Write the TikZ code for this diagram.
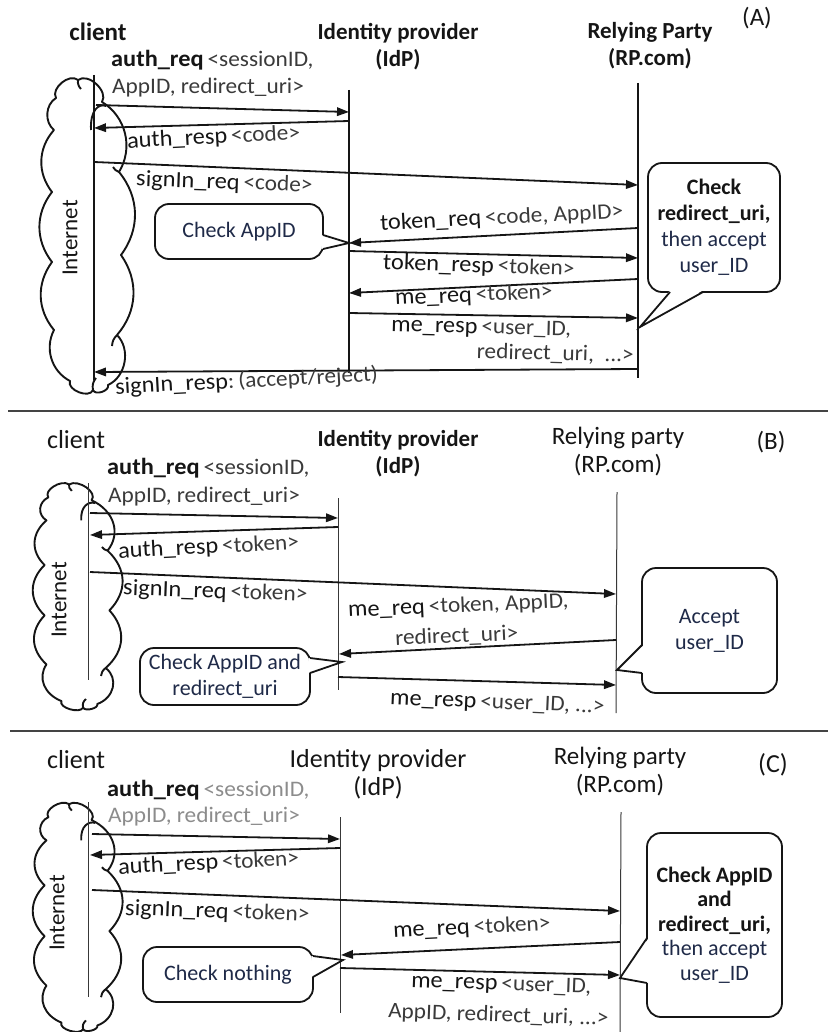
\documentclass[tikz,border=0pt]{standalone}
\usepackage{fontspec}
\setmainfont{Carlito}
\usetikzlibrary{arrows.meta,calc}
\definecolor{ink}{HTML}{151515}
\definecolor{par}{HTML}{3A3A3A}
\definecolor{faint}{HTML}{8C8C8C}
\definecolor{note}{HTML}{1F2A48}
% message names are a touch larger and darker than their parameters
\newcommand\nm[1]{{\fontsize{23.2}{26}\selectfont\color{ink}#1}}
\newcommand\nmb[1]{{\fontsize{23.2}{26}\selectfont\bfseries\color{ink}#1}}
\tikzset{
  lifeline/.style={line width=1.4pt, draw=ink},
  thinlife/.style={line width=1pt, draw=ink!85},
  msg/.style={line width=1.8pt, draw=ink, -{Triangle[length=12pt,width=8.5pt]}},
  lbl/.style={font=\fontsize{22.2}{26}\selectfont, text=par, inner sep=0pt, anchor=west, xscale=1.05},
  hdr/.style={font=\fontsize{25}{28}\selectfont, text=ink, inner sep=0pt, align=center},
  hdrb/.style={font=\fontsize{23}{27}\selectfont\bfseries, text=ink, inner sep=0pt, align=center},
  notebox/.style={draw=ink, line width=1.8pt, rounded corners=14pt, fill=white, text=note,
    font=\fontsize{22}{26}\selectfont, align=center, inner sep=0pt},
  cloudline/.style={line width=1.9pt, draw=ink, line join=round},
  sep/.style={line width=1.3pt, draw=ink!80},
  net/.style={font=\fontsize{23}{26}\selectfont, text=ink, rotate=90, inner sep=0pt},
}
% pointer of a speech box: base point, tip, base point, inward shift
\newcommand\notetail[4]{%
  \fill[white] ($(#1)+#4$) -- (#2) -- ($(#3)+#4$) -- cycle;
  \draw[line width=1.8pt, draw=ink, line join=miter] (#1) -- (#2) -- (#3);}
% the Internet cloud, drawn in the frame of the top panel
\newcommand\netcloud{%
  \draw[cloudline] (56,98) to[bend left=80] (78,80) to[bend left=80] (102,102)
    to[bend left=45] (119,172) to[bend left=38] (121,255) to[bend left=38] (117,335)
    to[bend left=55] (108,385) to[bend left=90] (93,390) to[bend left=90] (70,381)
    to[bend left=45] (54,330) to[bend left=38] (52,262) to[bend left=38] (52,192)
    to[bend left=40] (54,130) to[bend left=55] cycle;
  \draw[cloudline] (91,130) .. controls (90,110) and (99,103) .. (106,106);
  \draw[cloudline] (78,80) to[bend right=25] (81,89);
  \draw[cloudline] (119,172) to[bend left=20] (113,167);
  \draw[cloudline] (117,335) to[bend right=20] (112,346);
  \draw[cloudline] (93,390) to[bend left=25] (96,378);}

\begin{document}
\begin{tikzpicture}[x=1pt,y=-1pt]
\useasboundingbox (0,0) rectangle (828,1032);

%% ---------------- panel (A) ----------------
\netcloud
\node[net] (netA) at (70,238) {Internet};
\node[hdrb, font=\fontsize{25}{28}\selectfont\bfseries] (cliA) at (98,32) {client};
\node[hdrb] (idpA) at (398,47) {Identity provider\\(IdP)};
\node[hdrb] (rpA) at (650,46) {Relying Party\\(RP.com)};
\node[hdr] (tagA) at (757,18) {(A)};

\coordinate (cAt) at (94,75);   \coordinate (cAb) at (94,380);
\coordinate (iAt) at (349,90);  \coordinate (iAb) at (349,373);
\coordinate (rAt) at (638,83);  \coordinate (rAb) at (638,378);
\draw[lifeline] (cAt) -- (cAb);
\draw[lifeline] (iAt) -- (iAb);
\draw[lifeline] (rAt) -- (rAb);

\coordinate (A1s) at (96,105);  \coordinate (A1e) at (349,112);
\coordinate (A2s) at (349,121); \coordinate (A2e) at (94,128);
\coordinate (A3s) at (94,162);  \coordinate (A3e) at (638,185);
\coordinate (A4s) at (638,228); \coordinate (A4e) at (349,243);
\coordinate (A5s) at (349,251); \coordinate (A5e) at (638,258);
\coordinate (A6s) at (638,279); \coordinate (A6e) at (349,293);
\coordinate (A7s) at (349,313); \coordinate (A7e) at (638,318);
\coordinate (A8s) at (638,369); \coordinate (A8e) at (94,372);
\foreach \m in {1,...,8} {\draw[msg] (A\m s) -- (A\m e);}

\node[lbl] (lA1) at (111,60) {\nmb{auth\_req}\,<sessionID,};
\node[lbl] (lA1b) at (112,88) {AppID, redirect\_uri>};
\node[lbl, rotate=3] (lA2) at (127,142) {\nm{auth\_resp}\,<code>};
\node[lbl, rotate=-2] (lA3) at (136,180) {\nm{signIn\_req}\,<code>};
\node[lbl, rotate=3] (lA4) at (380,224) {\nm{token\_req}\,<code, AppID>};
\node[lbl, rotate=-2] (lA5) at (383,263) {\nm{token\_resp}\,<token>};
\node[lbl, rotate=2.5] (lA6) at (395,299) {\nm{me\_req}\,<token>};
\node[lbl, rotate=-1.5] (lA7) at (391,326) {\nm{me\_resp}\,<user\_ID,};
\node[lbl, rotate=-1.5, anchor=east] (lA7b) at (634,356) {redirect\_uri,\ \ ...>};
\node[lbl, rotate=3] (lA8) at (115,388) {\nm{signIn\_resp}:\,(accept/reject)};

\node[notebox, minimum width=168pt, minimum height=55pt] (nA1) at (239,231.5) {Check AppID};
\coordinate (nA1p) at (323,235); \coordinate (nA1t) at (349,243); \coordinate (nA1q) at (323,249);
\notetail{nA1p}{nA1t}{nA1q}{(-1.6,0)}
\node[notebox, minimum width=132pt, minimum height=129pt] (nA2) at (714,227.5)
  {\textbf{\color{ink}Check}\\\textbf{\color{ink}redirect\_uri,}\\then accept\\user\_ID};
\coordinate (nA2p) at (670,292); \coordinate (nA2t) at (640,327); \coordinate (nA2q) at (703,292);
\notetail{nA2p}{nA2t}{nA2q}{(0,-1.6)}

\coordinate (s1l) at (8,411); \coordinate (s1r) at (828,411);
\draw[sep] (s1l) -- (s1r);

%% ---------------- panel (B) ----------------
\begin{scope}[shift={(-4.3,426.8)}, xscale=0.94, yscale=0.72]
\netcloud
\end{scope}
\node[net] (netB) at (59,600) {Internet};
\node[hdr, font=\fontsize{26}{28}\selectfont] (cliB) at (76,440) {client};
\node[hdrb] (idpB) at (398,454) {Identity provider\\(IdP)};
\node[hdr] (rpB) at (618,452) {Relying party\\(RP.com)};
\node[hdr] (tagB) at (771,442) {(B)};

\coordinate (cBt) at (88,483);  \coordinate (cBb) at (88,680);
\coordinate (iBt) at (338,498); \coordinate (iBb) at (338,690);
\coordinate (rBt) at (617,492); \coordinate (rBb) at (616,713);
\draw[thinlife] (cBt) -- (cBb);
\draw[thinlife] (iBt) -- (iBb);
\draw[thinlife] (rBt) -- (rBb);

\coordinate (B1s) at (90,513);  \coordinate (B1e) at (338,518);
\coordinate (B2s) at (338,527); \coordinate (B2e) at (90,535);
\coordinate (B3s) at (90,572);  \coordinate (B3e) at (616,594);
\coordinate (B4s) at (616,640); \coordinate (B4e) at (339,654);
\coordinate (B5s) at (338,677); \coordinate (B5e) at (616,685);
\foreach \m in {1,...,5} {\draw[msg] (B\m s) -- (B\m e);}

\node[lbl] (lB1) at (107,468) {\nmb{auth\_req}\,<sessionID,};
\node[lbl] (lB1b) at (108,497) {AppID, redirect\_uri>};
\node[lbl, rotate=3] (lB2) at (118,552) {\nm{auth\_resp}\,<token>};
\node[lbl, rotate=-2] (lB3) at (123,589) {\nm{signIn\_req}\,<token>};
\node[lbl, rotate=2.5] (lB4) at (348,611) {\nm{me\_req}\,<token, AppID,};
\node[lbl, rotate=2.5] (lB4b) at (395,639) {redirect\_uri>};
\node[lbl, rotate=-2.5] (lB5) at (390,699) {\nm{me\_resp}\,<user\_ID, ...>};

\node[notebox, minimum width=170pt, minimum height=57pt] (nB1) at (225,676.5)
  {Check AppID and\\redirect\_uri};
\coordinate (nB1p) at (310,658); \coordinate (nB1t) at (342,662); \coordinate (nB1q) at (310,673);
\notetail{nB1p}{nB1t}{nB1q}{(-1.6,0)}
\node[notebox, minimum width=135pt, minimum height=125pt] (nB2) at (709.5,630.5)
  {Accept\\user\_ID};
\coordinate (nB2p) at (642,645); \coordinate (nB2t) at (617,670); \coordinate (nB2q) at (642,673);
\notetail{nB2p}{nB2t}{nB2q}{(1.6,0)}

\coordinate (s2l) at (10,731); \coordinate (s2r) at (828,731);
\draw[sep] (s2l) -- (s2r);

%% ---------------- panel (C) ----------------
\begin{scope}[shift={(-4.3,746)}, xscale=0.94, yscale=0.726]
\netcloud
\end{scope}
\node[net] (netC) at (57,913) {Internet};
\node[hdr, font=\fontsize{26}{28}\selectfont] (cliC) at (76,760) {client};
\node[hdr, font=\fontsize{26}{28}\selectfont] (idpC) at (378,774) {Identity provider\\(IdP)};
\node[hdr] (rpC) at (620,772) {Relying party\\(RP.com)};
\node[hdr, font=\fontsize{26}{28}\selectfont] (tagC) at (773,765) {(C)};

\coordinate (cCt) at (88,802);  \coordinate (cCb) at (88,997);
\coordinate (iCt) at (340,817); \coordinate (iCb) at (340,1013);
\coordinate (rCt) at (621,812); \coordinate (rCb) at (620,1032);
\draw[thinlife] (cCt) -- (cCb);
\draw[thinlife] (iCt) -- (iCb);
\draw[thinlife] (rCt) -- (rCb);

\coordinate (C1s) at (92,834);  \coordinate (C1e) at (340,839);
\coordinate (C2s) at (340,848); \coordinate (C2e) at (90,855);
\coordinate (C3s) at (92,890);  \coordinate (C3e) at (620,911);
\coordinate (C4s) at (620,942); \coordinate (C4e) at (341,955);
\coordinate (C5s) at (340,968); \coordinate (C5e) at (620,975);
\foreach \m in {1,...,5} {\draw[msg] (C\m s) -- (C\m e);}

\node[lbl] (lC1) at (107,790) {\nmb{auth\_req}\,\textcolor{faint}{<sessionID,}};
\node[lbl, text=faint] (lC1b) at (108,817) {AppID, redirect\_uri>};
\node[lbl, rotate=3] (lC2) at (118,868) {\nm{auth\_resp}\,<token>};
\node[lbl, rotate=-2] (lC3) at (125,909) {\nm{signIn\_req}\,<token>};
\node[lbl, rotate=3] (lC4) at (393,932) {\nm{me\_req}\,<token>};
\node[lbl, rotate=-2] (lC5) at (411,982) {\nm{me\_resp}\,<user\_ID,};
\node[lbl, rotate=-2] (lC5b) at (388,1012) {AppID, redirect\_uri, ...>};

\node[notebox, minimum width=170pt, minimum height=55pt] (nC1) at (228,974.5) {Check nothing};
\coordinate (nC1p) at (313,956); \coordinate (nC1t) at (343,960); \coordinate (nC1q) at (313,977);
\notetail{nC1p}{nC1t}{nC1q}{(-1.6,0)}
\node[notebox, minimum width=135pt, minimum height=184pt, font=\fontsize{22}{24.5}\selectfont] (nC2) at (714.5,925)
  {\textbf{\color{ink}Check AppID}\\\textbf{\color{ink}and}\\\textbf{\color{ink}redirect\_uri,}\\then accept\\user\_ID};
\coordinate (nC2p) at (647,938); \coordinate (nC2t) at (620,978); \coordinate (nC2q) at (647,983);
\notetail{nC2p}{nC2t}{nC2q}{(1.6,0)}
\end{tikzpicture}
\end{document}
